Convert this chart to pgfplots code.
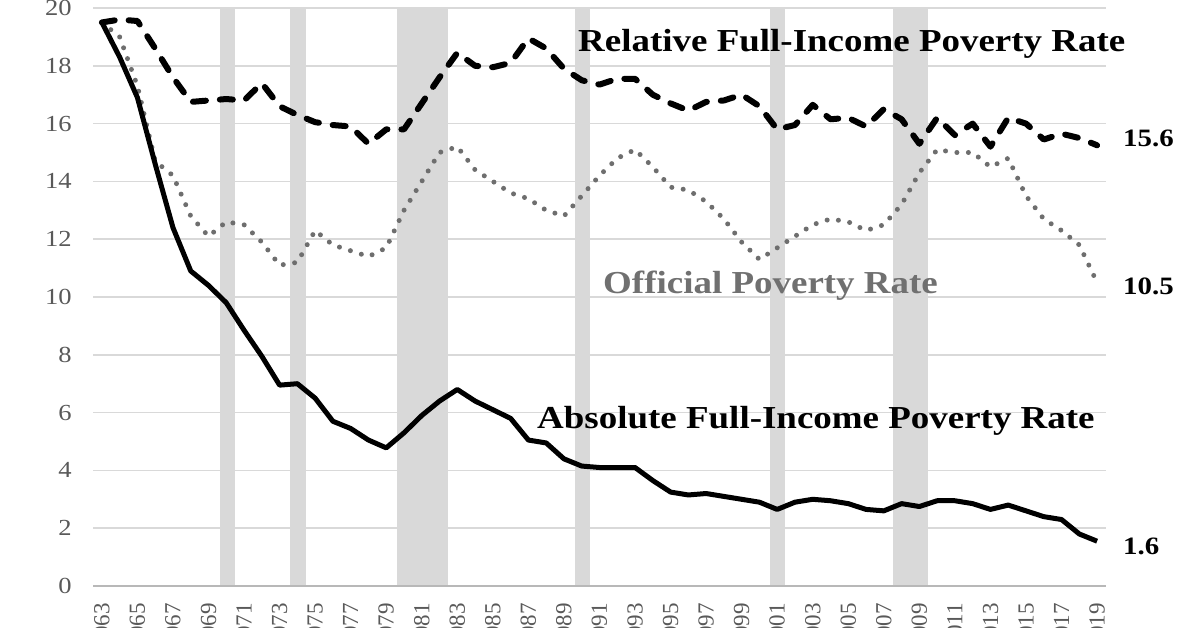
\documentclass[border=0pt]{standalone}
\usepackage{pgfplots}
\pgfplotsset{compat=1.18}
\usepackage{pgfplotstable}
\usepackage{fontspec}
\setmainfont{Liberation Serif}
\definecolor{gridgray}{HTML}{D9D9D9}
\definecolor{bandgray}{HTML}{D9D9D9}
\definecolor{tickgray}{HTML}{595959}
\definecolor{offgray}{HTML}{707070}
\definecolor{dotgray}{HTML}{6E6E6E}

\pgfplotstableread{
year absolute relative official
1963 19.5 19.5 19.5
1964 18.3 19.6 19.0
1965 16.9 19.55 17.3
1966 14.6 18.6 14.7
1967 12.4 17.6 14.2
1968 10.9 16.75 12.8
1969 10.4 16.8 12.1
1970 9.8 16.85 12.6
1971 8.85 16.8 12.5
1972 7.95 17.4 11.9
1973 6.95 16.6 11.1
1974 7.0 16.3 11.2
1975 6.5 16.05 12.3
1976 5.7 15.95 11.8
1977 5.45 15.9 11.6
1978 5.05 15.3 11.4
1979 4.78 15.8 11.7
1980 5.3 15.8 13.0
1981 5.9 16.7 14.0
1982 6.4 17.6 15.0
1983 6.8 18.45 15.2
1984 6.4 18.0 14.4
1985 6.1 17.95 14.0
1986 5.8 18.1 13.6
1987 5.05 18.95 13.4
1988 4.95 18.6 13.0
1989 4.4 17.9 12.8
1990 4.15 17.5 13.5
1991 4.1 17.35 14.2
1992 4.1 17.55 14.8
1993 4.1 17.55 15.1
1994 3.65 17.0 14.5
1995 3.25 16.7 13.8
1996 3.15 16.45 13.7
1997 3.2 16.75 13.3
1998 3.1 16.8 12.7
1999 3.0 17.0 11.9
2000 2.9 16.6 11.3
2001 2.65 15.8 11.7
2002 2.9 15.95 12.1
2003 3.0 16.65 12.5
2004 2.95 16.15 12.7
2005 2.85 16.2 12.6
2006 2.65 15.9 12.3
2007 2.6 16.5 12.5
2008 2.85 16.15 13.2
2009 2.75 15.3 14.3
2010 2.95 16.2 15.1
2011 2.95 15.6 15.0
2012 2.85 16.0 15.0
2013 2.65 15.2 14.5
2014 2.8 16.2 14.8
2015 2.6 16.0 13.5
2016 2.4 15.45 12.7
2017 2.3 15.65 12.3
2018 1.8 15.5 11.8
2019 1.55 15.25 10.5
}\datatable

\begin{document}
\begin{tikzpicture}
\begin{axis}[
  at={(93bp,42bp)}, anchor=south west,
  scale only axis, width=1013bp, height=578bp,
  xmin=1962.5, xmax=2019.5, ymin=0, ymax=20,
  axis line style={draw=none},
  axis x line*=bottom, axis y line*=left,
  xtick={1963,1965,...,2019},
  xticklabels={1963,1965,1967,1969,1971,1973,1975,1977,1979,1981,1983,1985,1987,1989,1991,1993,1995,1997,1999,2001,2003,2005,2007,2009,2011,2013,2015,2017,2019},
  ytick={0,2,...,20},
  yticklabels={0,2,4,6,8,10,12,14,16,18,20},
  major tick length=0pt,
  xticklabel shift=17bp, yticklabel shift=21bp,
  ymajorgrids, grid style={gridgray, line width=1.5bp},
  xticklabel style={rotate=90, anchor=east, inner sep=0pt, font=\fontsize{23bp}{26bp}\selectfont, text=tickgray},
  yticklabel style={anchor=east, inner sep=0pt, xscale=1.155, font=\fontsize{23bp}{26bp}\selectfont, text=tickgray},
  clip=false,
]
% recession bands
\addplot[fill=bandgray, draw=none] coordinates {(1969.65,0) (1969.65,20) (1970.49,20) (1970.49,0)};
\addplot[fill=bandgray, draw=none] coordinates {(1973.59,0) (1973.59,20) (1974.49,20) (1974.49,0)};
\addplot[fill=bandgray, draw=none] coordinates {(1979.61,0) (1979.61,20) (1982.48,20) (1982.48,0)};
\addplot[fill=bandgray, draw=none] coordinates {(1989.62,0) (1989.62,20) (1990.47,20) (1990.47,0)};
\addplot[fill=bandgray, draw=none] coordinates {(2000.60,0) (2000.60,20) (2001.44,20) (2001.44,0)};
\addplot[fill=bandgray, draw=none] coordinates {(2007.52,0) (2007.52,20) (2009.49,20) (2009.49,0)};
% x axis line
\addplot[draw=gridgray!85!black, line width=1.5bp] coordinates {(1962.5,0) (2019.5,0)};
% series
\addplot[dotgray, line width=5bp, line cap=round, dash pattern=on 0bp off 11.5bp] table[x=year, y=official] {\datatable};
\addplot[black, line width=6bp, line cap=round, line join=round, dash pattern=on 13bp off 14bp] table[x=year, y=relative] {\datatable};
\addplot[black, line width=5bp, line join=round] table[x=year, y=absolute] {\datatable};
\end{axis}
\begin{scope}[every node/.style={inner sep=0pt, xscale=1.155}]
\node[anchor=base west, font=\fontsize{32bp}{36bp}\selectfont\bfseries] at (578bp,576bp) {Relative Full-Income Poverty Rate};
\node[anchor=base west, font=\fontsize{32bp}{36bp}\selectfont\bfseries, text=offgray] at (603bp,334bp) {Official Poverty Rate};
\node[anchor=base west, font=\fontsize{32bp}{36bp}\selectfont\bfseries] at (537bp,199bp) {Absolute Full-Income Poverty Rate};
\node[anchor=base west, font=\fontsize{25bp}{30bp}\selectfont\bfseries] at (1123bp,481bp) {15.6};
\node[anchor=base west, font=\fontsize{25bp}{30bp}\selectfont\bfseries] at (1123bp,333bp) {10.5};
\node[anchor=base west, font=\fontsize{25bp}{30bp}\selectfont\bfseries] at (1123bp,73bp) {1.6};
\end{scope}
\pgfresetboundingbox
\useasboundingbox (0bp,0bp) rectangle (1196bp,628bp);
\end{tikzpicture}
\end{document}
